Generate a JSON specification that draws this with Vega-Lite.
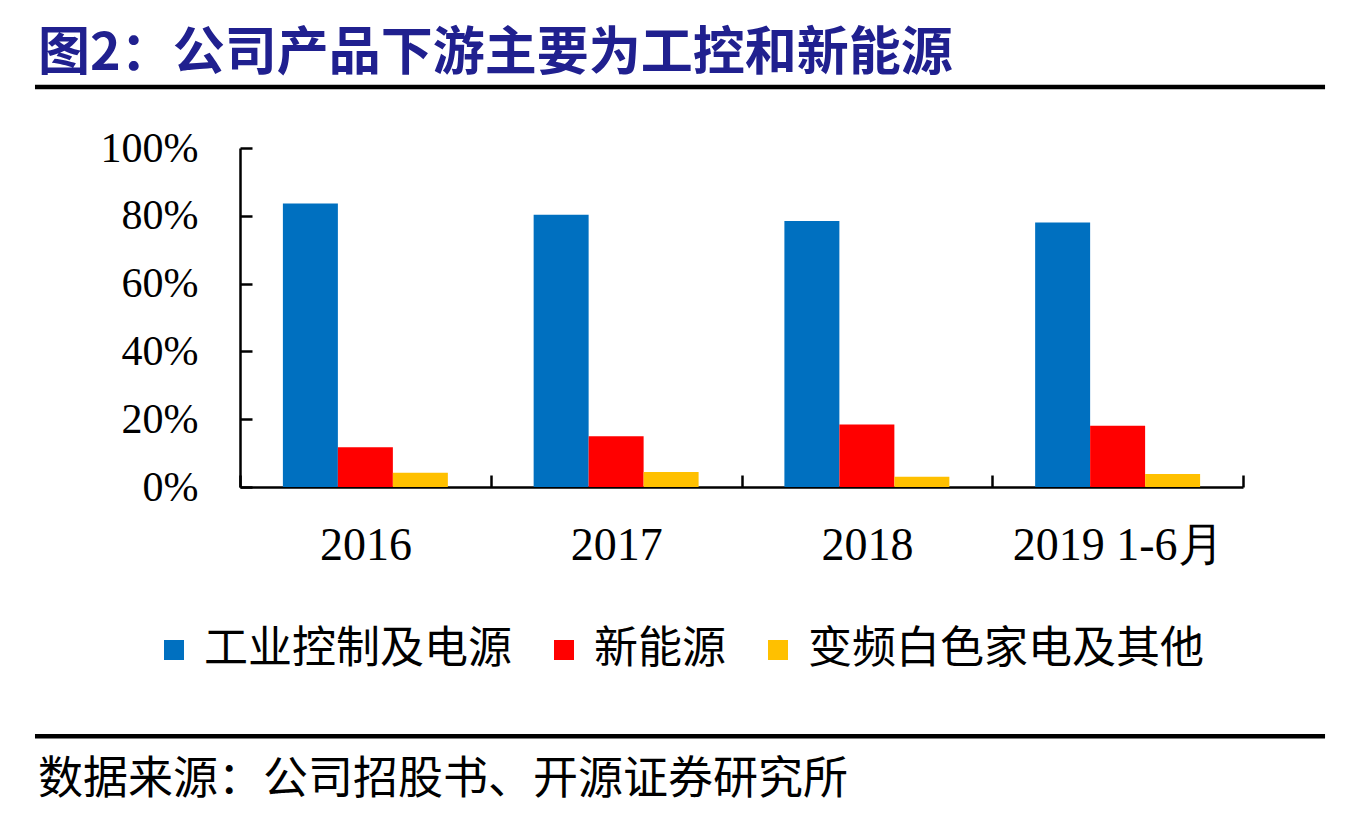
{
  "$schema": "https://vega.github.io/schema/vega-lite/v6.json",
  "width": 1003,
  "height": 339,
  "autosize": {"type": "none"},
  "padding": {"left": 240, "top": 148, "right": 109, "bottom": 337},
  "background": "white",
  "config": {"view": {"stroke": null}},
  "title": {
    "text": "图2：公司产品下游主要为工控和新能源",
    "anchor": "start",
    "frame": "group",
    "dx": -202,
    "offset": 4,
    "font": "Noto Sans CJK SC",
    "fontSize": 52,
    "fontWeight": "bold",
    "color": "#20208f"
  },
  "layer": [
    {
      "data": {
        "values": [
          {"period": "2016", "series": "工业控制及电源", "share": 0.836},
          {"period": "2016", "series": "新能源", "share": 0.117},
          {"period": "2016", "series": "变频白色家电及其他", "share": 0.042},
          {"period": "2017", "series": "工业控制及电源", "share": 0.803},
          {"period": "2017", "series": "新能源", "share": 0.150},
          {"period": "2017", "series": "变频白色家电及其他", "share": 0.044},
          {"period": "2018", "series": "工业控制及电源", "share": 0.785},
          {"period": "2018", "series": "新能源", "share": 0.184},
          {"period": "2018", "series": "变频白色家电及其他", "share": 0.030},
          {"period": "2019 1-6月", "series": "工业控制及电源", "share": 0.780},
          {"period": "2019 1-6月", "series": "新能源", "share": 0.181},
          {"period": "2019 1-6月", "series": "变频白色家电及其他", "share": 0.038}
        ]
      },
      "mark": {"type": "bar"},
      "encoding": {
        "x": {
          "field": "period",
          "type": "nominal",
          "sort": ["2016", "2017", "2018", "2019 1-6月"],
          "scale": {"paddingInner": 0, "paddingOuter": 0},
          "axis": {
            "title": null,
            "labelAngle": 0,
            "labelFont": "Liberation Serif",
            "labelFontSize": 46,
            "labelColor": "black",
            "labelPadding": 48,
            "labelLimit": 400,
            "tickBand": "extent",
            "tickSize": -12,
            "tickColor": "black",
            "tickWidth": 2.5,
            "domainColor": "black",
            "domainWidth": 2.5
          }
        },
        "xOffset": {
          "field": "series",
          "sort": ["工业控制及电源", "新能源", "变频白色家电及其他"],
          "scale": {"paddingInner": 0, "paddingOuter": 0.78}
        },
        "y": {
          "field": "share",
          "type": "quantitative",
          "scale": {"domain": [0, 1]},
          "axis": {
            "title": null,
            "values": [0, 0.2, 0.4, 0.6, 0.8, 1],
            "format": ".0%",
            "grid": false,
            "labelFont": "Liberation Serif",
            "labelFontSize": 42,
            "labelColor": "black",
            "labelPadding": 54,
            "tickSize": -12,
            "tickColor": "black",
            "tickWidth": 2.5,
            "domainColor": "black",
            "domainWidth": 2.5
          }
        },
        "color": {
          "field": "series",
          "type": "nominal",
          "sort": ["工业控制及电源", "新能源", "变频白色家电及其他"],
          "scale": {
            "domain": ["工业控制及电源", "新能源", "变频白色家电及其他"],
            "range": ["#0070C0", "#FF0000", "#FFC000"]
          },
          "legend": {
            "orient": "none",
            "legendX": -88,
            "legendY": 480,
            "padding": 0,
            "direction": "horizontal",
            "title": null,
            "symbolType": "square",
            "symbolSize": 400,
            "symbolStrokeWidth": 0,
            "labelFont": "Noto Sans CJK SC",
            "labelFontSize": 44,
            "labelColor": "black",
            "labelOffset": 8,
            "columnPadding": 30,
            "labelLimit": 600
          }
        }
      }
    },
    {
      "data": {"values": [{}]},
      "mark": {"type": "rule", "strokeWidth": 4.5, "color": "black", "clip": false},
      "encoding": {
        "x": {"datum": -0.2044, "type": "quantitative", "scale": {"domain": [0, 1]}, "axis": null},
        "x2": {"datum": 1.0818},
        "y": {"datum": 1.18, "type": "quantitative", "scale": {"domain": [0, 1]}, "axis": null}
      }
    },
    {
      "data": {"values": [{}]},
      "mark": {"type": "rule", "strokeWidth": 4.5, "color": "black", "clip": false},
      "encoding": {
        "x": {"datum": -0.2044, "type": "quantitative", "scale": {"domain": [0, 1]}, "axis": null},
        "x2": {"datum": 1.0818},
        "y": {"datum": -0.735, "type": "quantitative", "scale": {"domain": [0, 1]}, "axis": null}
      }
    },
    {
      "data": {"values": [{}]},
      "mark": {
        "type": "text",
        "align": "left",
        "baseline": "middle",
        "font": "Noto Sans CJK SC",
        "fontSize": 45,
        "color": "black",
        "clip": false
      },
      "encoding": {
        "x": {"datum": -0.2014, "type": "quantitative", "scale": {"domain": [0, 1]}, "axis": null},
        "y": {"datum": -0.864, "type": "quantitative", "scale": {"domain": [0, 1]}, "axis": null},
        "text": {"value": "数据来源：公司招股书、开源证券研究所"}
      }
    }
  ],
  "resolve": {"scale": {"x": "independent", "y": "independent"}}
}
